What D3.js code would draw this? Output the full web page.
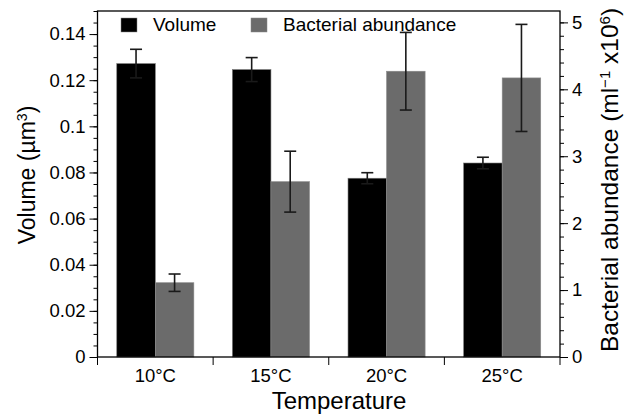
<!DOCTYPE html>
<html>
<head>
<meta charset="utf-8">
<script src="https://cdn.jsdelivr.net/npm/d3@7"></script>
<style>
  body { margin: 0; background: #fff; }
  svg text { font-family: "Liberation Sans", Arial, Helvetica, sans-serif; fill: #000; }
</style>
</head>
<body>
<div id="chart"></div>
<script>
// temperatures on the x axis
var categories = ["10°C", "15°C", "20°C", "25°C"];
// cell volume (µm3), left axis
var volume = [0.1272, 0.1246, 0.0775, 0.0841];
var volumeErr = [0.0062, 0.0052, 0.0024, 0.0025];
// bacterial abundance (ml-1 x10^6), right axis
var abundance = [1.11, 2.62, 4.27, 4.17];
var abundanceErr = [0.13, 0.455, 0.58, 0.80];
var leftTicks = [0, 0.02, 0.04, 0.06, 0.08, 0.1, 0.12, 0.14];
var rightTicks = [0, 1, 2, 3, 4, 5];

var width = 624, height = 414;
var margin = {top: 11, right: 64, bottom: 57, left: 97.5};

var svg = d3.select("#chart").append("svg")
	.attr("width", width)
	.attr("height", height);

var x0 = d3.scaleBand()
	.domain(categories)
	.range([margin.left, width - margin.right])
	.paddingInner(1 / 3)
	.paddingOuter(1 / 6);

var x1 = d3.scaleBand()
	.domain(["vol", "bac"])
	.range([0, x0.bandwidth()]);

var yL = d3.scaleLinear().domain([0, 0.15]).range([height - margin.bottom, margin.top]);
var yR = d3.scaleLinear().domain([0, 5.17]).range([height - margin.bottom, margin.top]);

var x0px = margin.left, x1px = width - margin.right;
var yBottom = height - margin.bottom;

// bars
var data = categories.map(function(c, i) {
	return {cat: c, vol: volume[i], volErr: volumeErr[i], bac: abundance[i], bacErr: abundanceErr[i]};
});

var groups = svg.selectAll(".grp")
	.data(data)
	.enter().append("g")
	.attr("class", "grp")
	.attr("transform", function(d) { return "translate(" + x0(d.cat) + ",0)"; });

groups.append("rect")
	.attr("x", x1("vol"))
	.attr("y", function(d) { return yL(d.vol); })
	.attr("width", x1.bandwidth())
	.attr("height", function(d) { return yBottom - yL(d.vol); })
	.style("fill", "#000")
	.style("stroke", "#777")
	.style("stroke-width", "0.6px");

groups.append("rect")
	.attr("x", x1("bac"))
	.attr("y", function(d) { return yR(d.bac); })
	.attr("width", x1.bandwidth())
	.attr("height", function(d) { return yBottom - yR(d.bac); })
	.style("fill", "#6b6b6b")
	.style("stroke", "#8a8a8a")
	.style("stroke-width", "0.6px");

// error bars
function errorBar(sel, cx, yTop, yBot) {
	var g = sel.append("g").style("stroke", "#1a1a1a").style("stroke-width", "1.6px");
	g.append("line").attr("x1", cx).attr("x2", cx).attr("y1", yTop).attr("y2", yBot);
	g.append("line").attr("x1", cx - 6).attr("x2", cx + 6).attr("y1", yTop).attr("y2", yTop);
	g.append("line").attr("x1", cx - 6).attr("x2", cx + 6).attr("y1", yBot).attr("y2", yBot);
}
groups.each(function(d) {
	var g = d3.select(this);
	errorBar(g, x1("vol") + x1.bandwidth() / 2, yL(d.vol + d.volErr), yL(d.vol - d.volErr));
	errorBar(g, x1("bac") + x1.bandwidth() / 2, yR(d.bac + d.bacErr), yR(d.bac - d.bacErr));
});

// frame
svg.append("rect")
	.attr("x", x0px).attr("y", margin.top)
	.attr("width", x1px - x0px).attr("height", yBottom - margin.top)
	.style("fill", "none").style("stroke", "#000").style("stroke-width", "1.3px");

// left axis: minor then major ticks
var leftAxis = svg.append("g").attr("transform", "translate(" + x0px + ",0)");
leftAxis.append("g")
	.call(d3.axisLeft(yL).tickValues(d3.range(0, 0.1501, 0.005)).tickSize(4).tickFormat(""))
	.call(function(g) { g.select(".domain").remove(); });
leftAxis.append("g")
	.call(d3.axisLeft(yL).tickValues(leftTicks).tickSize(8).tickPadding(4).tickFormat(d3.format("~g")))
	.call(function(g) { g.select(".domain").remove(); })
	.selectAll("text").style("font-size", "18.5px");

// right axis
var rightAxis = svg.append("g").attr("transform", "translate(" + x1px + ",0)");
rightAxis.append("g")
	.call(d3.axisRight(yR).tickValues(d3.range(0, 5.17, 0.2)).tickSize(4).tickFormat(""))
	.call(function(g) { g.select(".domain").remove(); });
rightAxis.append("g")
	.call(d3.axisRight(yR).tickValues(rightTicks).tickSize(8).tickPadding(4).tickFormat(d3.format("d")))
	.call(function(g) { g.select(".domain").remove(); })
	.selectAll("text").style("font-size", "18.5px");

// bottom axis: labels at band centres, ticks at band edges
var bottomAxis = svg.append("g").attr("transform", "translate(0," + yBottom + ")");
bottomAxis.call(d3.axisBottom(x0).tickSize(0).tickPadding(12))
	.call(function(g) { g.select(".domain").remove(); })
	.selectAll("text").style("font-size", "18.5px");
bottomAxis.selectAll(".edge")
	.data(d3.range(categories.length + 1))
	.enter().append("line")
	.attr("class", "edge")
	.attr("x1", function(i) { return x0.range()[0] + i * x0.step(); })
	.attr("x2", function(i) { return x0.range()[0] + i * x0.step(); })
	.attr("y1", 0).attr("y2", 8)
	.style("stroke", "#000");

svg.selectAll(".tick line").style("stroke", "#000");

// axis titles
svg.append("text")
	.attr("x", 339)
	.attr("y", 409)
	.attr("text-anchor", "middle")
	.style("font-size", "24px")
	.text("Temperature");

var lt = svg.append("text")
	.attr("transform", "translate(35,175) rotate(-90)")
	.attr("text-anchor", "middle")
	.style("font-size", "23px");
lt.append("tspan").text("Volume (µm");
lt.append("tspan").attr("dy", "-8").style("font-size", "14px").text("3");
lt.append("tspan").attr("dy", "8").text(")");

var rt = svg.append("text")
	.attr("transform", "translate(618,180) rotate(-90)")
	.attr("text-anchor", "middle")
	.style("font-size", "24.5px");
rt.append("tspan").text("Bacterial abundance (ml");
rt.append("tspan").attr("dy", "-8").style("font-size", "15px").text("−1");
rt.append("tspan").attr("dy", "8").text(" x10");
rt.append("tspan").attr("dy", "-8").style("font-size", "15px").text("6");
rt.append("tspan").attr("dy", "8").text(")");

// legend
var legendItems = [
	{label: "Volume", color: "#000", x: 121},
	{label: "Bacterial abundance", color: "#6b6b6b", x: 251}
];
var legend = svg.selectAll(".legend")
	.data(legendItems)
	.enter().append("g")
	.attr("class", "legend")
	.attr("transform", function(d) { return "translate(" + d.x + ",18)"; });
legend.append("rect")
	.attr("width", 16).attr("height", 14)
	.style("fill", function(d) { return d.color; })
	.style("stroke", "#888").style("stroke-width", "0.5px");
legend.append("text")
	.attr("x", 32).attr("y", 13)
	.style("font-size", "19px")
	.text(function(d) { return d.label; });
</script>
</body>
</html>
